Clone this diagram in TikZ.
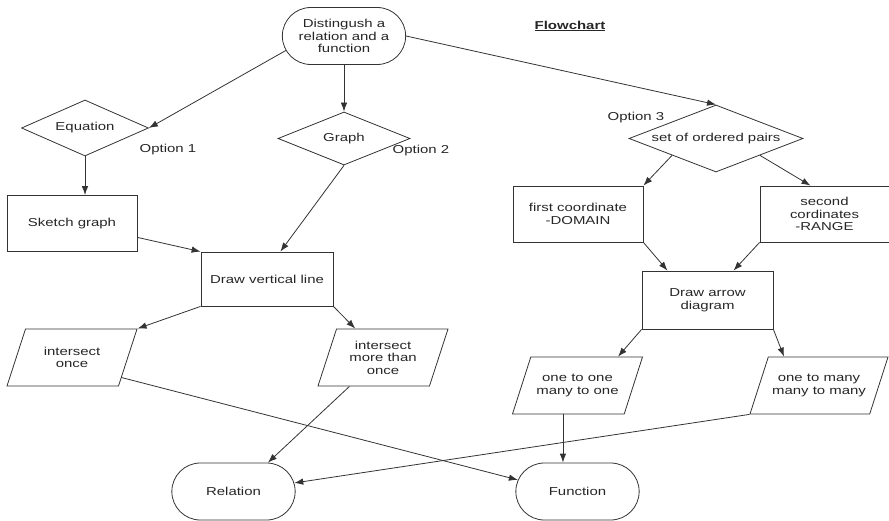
\documentclass[tikz,border=0pt]{standalone}
\usepackage{fontspec}
\setmainfont{Liberation Sans}[FakeStretch=1.3]
\usetikzlibrary{shapes.geometric}
\usetikzlibrary{shapes.misc}
\usetikzlibrary{arrows.meta}
\tikzset{every node/.style={font=\fontsize{11.5}{12.5}\selectfont, text=black!85, align=center},
 terminal/.style={rounded rectangle, draw=black!80, line width=0.8pt, minimum width=130pt, minimum height=57pt},
 decision/.style={diamond, draw=black!80, line width=0.8pt, inner sep=0pt, aspect=2.5},
 process/.style={rectangle, draw=black!80, line width=0.8pt, minimum width=130pt, minimum height=56pt},
 io/.style={trapezium, trapezium left angle=72, trapezium right angle=108, trapezium stretches body,
   draw=black!80, line width=0.8pt, minimum width=130pt, minimum height=57pt, inner xsep=2pt, inner ysep=#1},
 flow/.style={draw=black!80, line width=0.8pt, -{Latex[length=9pt,width=6.5pt]}},
 }

\begin{document}
\begin{tikzpicture}[x=1pt, y=-1pt]
        \useasboundingbox (0,0) rectangle (889,521);

        \node[terminal] (start) at (344,36) {Distingush a\\relation and a\\function};
        \node (title) at (570,26) {\underline{\textbf{Flowchart}}};

        \node[decision, minimum width=127pt, minimum height=56pt] (eq) at (85,128) {Equation};
        \node[decision, minimum width=132pt, minimum height=53pt] (graph) at (344,138.5) {Graph};
        \node[decision, minimum width=174pt, minimum height=67pt] (pairs) at (716,138.5) {set of ordered pairs};
        \node (opt1) at (168,150) {Option 1};
        \node (opt2) at (421,151) {Option 2};
        \node (opt3) at (636,118) {Option 3};

        \node[process] (sketch) at (72,223.5) {Sketch graph};
        \node[process, minimum width=132pt, minimum height=54pt] (vert) at (267,279) {Draw vertical line};
        \node[process] (first) at (578,214) {first coordinate\\-DOMAIN};
        \node[process, minimum width=129pt] (second) at (824.5,214) {second\\cordinates\\-RANGE};
        \node[process, minimum width=131pt, minimum height=58pt] (arrowd) at (707.5,300) {Draw arrow\\diagram};

        \node[io=18pt] (once) at (72,357.5) {intersect\\once};
        \node[io=11.8pt] (more) at (383,357.5) {intersect\\more than\\once};
        \node[io=17pt] (oneone) at (577.5,385.5) {one to one\\many to one};
        \node[io=17pt, minimum width=138pt] (onemany) at (819,385.5) {one to many\\many to many};

        \node[terminal] (rel) at (233.5,491.5) {Relation};
        \node[terminal] (func) at (577.5,491.5) {Function};

        % option branches
        \draw[flow] (start.194) -- (eq.east);
        \draw[flow] (start.south) -- (graph.north);
        \draw[flow] (start.east) -- (pairs.north);

        \draw[flow] (eq.south) -- (eq.south |- sketch.north);
        \draw[flow] (sketch.-12) -- (vert.north west);
        \draw[flow] (graph.south) -- (vert.64);
        \draw[flow] (vert.south west) -- (once.top right corner);
        \draw[flow] (vert.south east) -- ([xshift=19pt]more.top left corner);
        \draw[flow] (once.-22) -- (func.169);
        \draw[flow] ([xshift=32pt]more.bottom left corner) -- (rel.40);

        \draw[flow] (pairs.201) -- (first.north east);
        \draw[flow] (pairs.-21) -- ([xshift=-14pt]second.north);
        \draw[flow] (first.south east) -- ([xshift=-40pt]arrowd.north);
        \draw[flow] (second.south west) -- ([xshift=26pt]arrowd.north);
        \draw[flow] (arrowd.south west) -- ([xshift=-25pt]oneone.top right corner);
        \draw[flow] (arrowd.south east) -- ([xshift=16pt]onemany.top left corner);

        \coordinate (oo) at ([xshift=51pt]oneone.bottom left corner);
        \draw[flow] (oo) -- (oo |- func.north);
        \draw[flow] (onemany.bottom left corner) -- (rel.8);
    \end{tikzpicture}
\end{document}
